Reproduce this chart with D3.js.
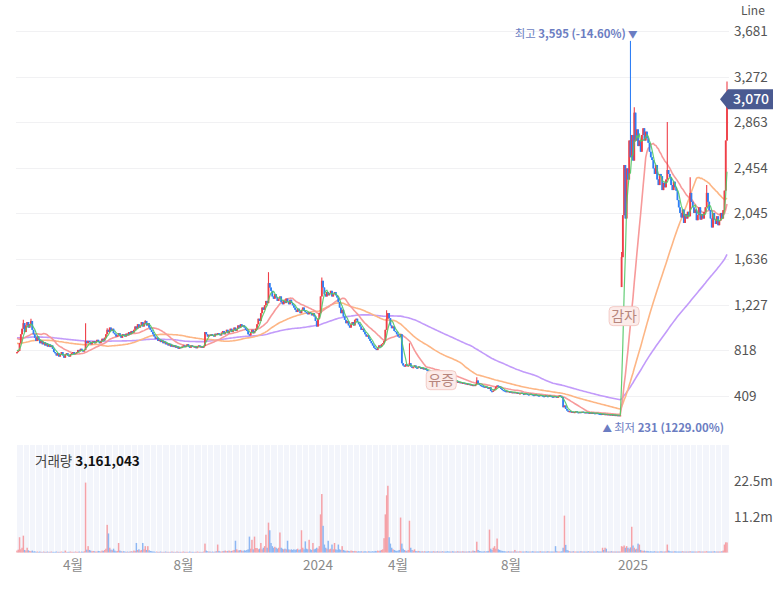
<!DOCTYPE html>
<html><head><meta charset="utf-8">
<script src="https://cdn.jsdelivr.net/npm/d3@7"></script>
<style>
html,body{margin:0;padding:0;background:#fff;overflow:hidden;}
svg{display:block;font-family:"Noto Sans CJK KR","Noto Sans",sans-serif;}
</style></head><body>
<svg id="chart" width="773" height="592"></svg>
<script>
// ---- data (daily closes, KRW) ----
const closes = [
800,810,880,960,
1010,1060,980,1040,1070,1020,1050,1080,
1000,960,
930,900,940,910,880,900,870,890,860,880,850,870,845,860,
830,800,790,770,790,760,780,800,770,750,780,790,770,760,780,790,800,780,790,
800,820,810,830,815,805,820,
900,
880,900,890,870,885,900,880,895,910,890,880,900,920,905,
930,960,1000,980,1020,990,1010,970,
960,940,950,970,945,930,960,955,940,965,950,980,960,990,975,
1000,1030,1010,1050,1020,1040,1070,1030,1060,1080,1040,1060,1020,1000,980,960,
940,920,930,900,910,890,905,880,895,870,880,860,875,850,865,845,860,840,850,830,845,836,
850,860,845,855,870,850,840,860,855,845,850,835,850,860,845,850,840,855,
980,
960,940,955,945,960,950,940,965,955,970,960,950,975,990,960,980,1000,970,990,1010,980,1000,1020,990,
1010,1040,1020,1050,1030,1040,1020,1000,
990,960,950,980,1000,970,990,1010,
1050,1100,1080,1150,1200,1180,1220,1260,1240,
1420,1380,
1350,1300,1280,1320,1290,1260,1280,1300,
1250,1230,1260,1240,1280,1250,1230,1270,1240,1220,
1200,1180,1160,1190,1170,1150,1180,1200,1170,1160,1150,
1140,1160,1150,1130,1150,1120,1080,1030,
1100,1150,
1300,1440,1380,
1320,1300,1340,1310,1330,1350,1300,1320,1340,1310,1290,
1250,1200,1150,1180,1120,1090,1060,1080,1040,1020,
1050,1070,1040,1090,1100,1070,
1050,1030,1000,1010,980,960,940,950,920,900,880,860,840,830,818,
840,860,850,870,880,900,
1000,1100,1150,1105,
1040,1015,1030,990,980,960,940,935,960,
700,680,670,690,675,680,
700,
670,660,665,680,660,655,670,665,650,660,645,655,640,
635,625,630,620,615,625,610,620,605,615,600,610,595,600,590,585,575,570,560,565,
550,540,545,530,535,525,530,520,525,515,520,510,515,505,510,500,505,495,510,545,520,505,500,495,490,485,490,480,470,485,
450,445,455,470,490,500,495,480,470,460,455,450,445,450,440,445,440,
440,435,440,430,435,425,430,435,425,420,430,425,420,415,425,420,415,410,420,415,410,405,415,410,405,400,410,405,400,410,405,400,395,405,400,395,400,410,400,395,
305,
320,290,
275,265,270,260,265,258,262,268,260,255,262,258,265,260,255,260,258,252,256,250,255,252,248,254,250,246,
245,242,246,240,244,238,242,236,240,235,238,233,236,231,234,232,233,
1653,2030,2480,2000,2450,2350,2700,2550,2750,2520,2950,2700,2800,2650,
2700,2600,2750,2810,2700,2780,2720,
2680,2600,2550,
2525,2450,2400,2480,2350,2300,2400,2380,2255,2320,2280,2350,
2435,
2400,2370,2300,2255,2330,2280,2250,
2165,2100,2050,2010,2080,1960,2040,2000,2060,2020,
2230,
2150,2100,2050,2080,1985,2030,2100,1990,2040,2000,2060,
2100,2230,
2150,2075,2000,1920,2050,1990,1950,2020,1940,1980,
2050,2000,
2075,
2250,2700,3070
];
// daily volume, millions of shares
const volumes = [
0.6,0.9,4.8,1.0,1.5,5.3,0.8,0.6,1.5,0.7,
0.5,0.4,0.6,0.3,0.4,0.2,0.3,0.2,0.3,0.2,
0.2,0.3,0.2,0.2,0.3,0.2,0.2,0.3,0.2,0.2,
0.2,0.3,0.2,0.2,0.2,0.3,0.2,0.2,0.6,0.2,
0.2,0.2,0.3,0.2,0.2,0.2,0.3,0.2,0.2,0.3,
0.2,0.3,0.2,0.4,22,0.9,2.0,0.8,0.6,0.4,
0.5,0.4,0.3,0.3,0.5,0.4,0.3,0.6,0.5,0.8,
1.2,8.7,6.0,1.5,0.9,0.7,1.2,0.6,0.4,0.5,
3.0,0.6,0.4,0.3,0.4,0.3,0.2,0.3,0.2,0.3,
0.4,0.3,0.6,0.5,3.0,0.8,1.0,0.6,0.8,3.0,
1.0,2.0,0.8,2.0,0.7,0.5,0.4,0.3,0.3,0.2,
0.3,0.2,0.2,0.3,0.2,0.2,0.2,0.3,0.2,0.2,
0.2,0.2,0.3,0.2,0.2,0.2,0.3,0.2,0.2,0.2,
0.2,0.3,0.2,0.2,0.2,0.2,0.3,0.2,0.2,0.2,
0.2,0.2,0.3,0.2,0.2,0.2,0.2,0.3,2.8,0.6,
0.4,0.3,0.3,0.2,0.3,0.2,0.3,0.4,2.5,0.5,
0.3,0.3,0.4,0.5,0.6,0.4,0.5,0.6,0.4,0.5,
0.6,0.8,3.7,1.0,0.6,0.7,0.8,0.6,0.5,0.7,
0.6,0.8,1.0,5.0,1.2,4.0,1.0,5.0,1.4,1.4,
1.0,1.2,3.0,1.0,1.5,2.0,5.6,1.5,9.4,7.0,
3.0,2.0,1.5,1.8,1.5,1.2,1.5,6.3,1.5,1.2,
1.0,1.2,1.0,3.7,1.0,0.8,1.0,0.8,1.0,0.8,
1.0,1.2,0.8,1.0,7.0,1.5,1.0,3.5,1.2,1.0,
4.0,1.0,0.8,3.0,1.0,1.2,1.5,1.2,2.0,12.0,
18.4,8.4,2.5,1.5,1.2,3.7,1.0,1.2,2.5,1.0,
3.0,1.0,0.8,2.5,1.0,0.8,2.0,0.8,0.6,0.5,
0.6,0.5,0.4,0.6,0.5,0.4,0.5,0.4,0.3,0.4,
0.3,0.4,0.3,0.3,0.4,0.3,0.3,0.4,0.3,0.3,
0.4,0.3,0.5,0.4,0.6,0.5,0.6,0.8,1.0,4.5,
12.0,18.0,21.0,4.8,2.8,1.5,1.0,0.8,0.6,0.5,
0.6,0.8,11.0,2.8,1.2,0.8,0.6,0.5,0.8,10.0,
1.5,0.8,0.6,1.0,0.5,0.4,0.5,0.4,0.3,0.4,
0.3,0.4,0.3,0.3,0.4,0.3,0.3,0.3,0.4,0.3,
0.3,0.4,0.3,0.3,0.3,0.4,0.3,0.3,0.3,0.4,
0.3,0.3,0.3,0.4,0.3,0.3,0.3,0.4,0.3,0.3,
0.3,0.4,0.3,0.3,0.3,0.3,0.4,0.3,0.3,0.6,
0.5,0.4,3.4,0.8,0.5,0.4,0.3,0.3,0.4,0.3,
0.4,0.5,7.2,1.2,0.8,1.5,2.0,1.2,4.4,1.0,
0.8,0.6,0.5,0.4,0.4,0.3,0.3,0.4,0.3,0.3,
0.3,0.3,0.8,0.3,0.3,0.3,0.4,0.3,0.3,0.3,
0.3,0.4,0.3,0.3,0.3,0.3,0.4,0.3,0.3,0.3,
0.3,0.3,0.4,0.3,0.3,0.3,0.3,0.3,0.4,0.3,
0.3,0.3,0.3,0.3,2.0,0.4,0.3,0.3,0.3,0.4,
1.5,11.6,2.4,0.8,0.6,0.4,0.3,0.3,0.4,0.3,
0.3,0.3,0.3,0.3,0.4,0.3,0.3,0.3,0.3,0.3,
0.4,0.3,0.3,0.3,0.3,0.3,0.3,0.4,0.3,0.3,
0.3,1.5,0.8,1.5,1.2,0.3,0.3,0.3,0.4,0.3,
0.3,0.3,0.3,0.3,0.3,0.3,2.0,1.8,2.2,1.5,
2.0,1.5,1.2,1.6,8.1,2.2,1.5,1.0,1.2,2.8,
2.5,0.8,0.6,0.5,0.6,0.4,0.5,0.4,0.3,0.4,
0.3,0.3,0.4,0.3,0.3,0.3,0.3,0.4,0.3,0.3,
0.3,0.4,2.5,0.6,0.4,0.3,0.3,0.3,0.4,0.3,
0.3,0.3,0.3,0.3,0.4,0.3,0.3,0.3,0.3,0.3,
0.4,0.3,0.3,0.3,0.3,0.3,0.3,0.4,0.3,0.3,
0.3,0.3,0.3,0.4,0.3,0.3,0.3,0.3,0.3,0.4,
0.3,0.3,0.3,0.3,0.3,0.4,0.6,2.5,3.2,3.161043
];
// sparse intraday highs / opens: [dayIndex, value]
const highOverrides = [[5,1090],[11,1100],[54,1060],[71,1015],[101,1087],[198,1518],[240,1470],[291,1177],[309,880],[362,575],[476,1700],[483,3595],[486,3000],[512,2866],[530,2370],[543,2300],[559,3230]];
const openOverrides = [[0,790],[476,1384]];

const priceTicks = [409,818,1227,1636,2045,2454,2863,3272,3681];
const volumeTicks = [11.2,22.5];
const volumeTickLabels = ["11.2m","22.5m"];
const xTickIndex = [44,131,237,300,389,485];
const xTickLabels = ["4월","8월","2024","4월","8월","2025"];
const maPeriods = [5,20,60,120];
const maSeeds = [820,930,880,930];
const maColors = ["#52c867","#f79a9a","#fdb685","#c29bfa"];
const lastPrice = 3070;
const lastVolume = 3161043;
const highInfo = {index:483, value:3595, pct:"-14.60%"};
const lowInfo = {index:472, value:231, pct:"1229.00%"};
const events = [{label:"유증", index:334, price:548},{label:"감자", index:478, price:1123}];

// ---- build ----
const svg = d3.select("#chart");
const N = closes.length;
const opens = closes.map((c,i)=> i===0 ? c : closes[i-1]);
openOverrides.forEach(([i,v])=>{ if(i<N) opens[i]=v; });
const highs = closes.map((c,i)=>Math.max(c,opens[i]));
highOverrides.forEach(([i,v])=>{ if(i<N) highs[i]=v; });
const lows = closes.map((c,i)=>Math.min(c,opens[i]));

const x = d3.scaleLinear().domain([0,N-1]).range([17,727]);
const y = d3.scaleLinear().domain([0,3681]).range([441.2,31.3]);
const yv = d3.scaleLinear().domain([0,22.5]).range([552.5,481]);
const step = x(1)-x(0);

const upC = "#ef3f48", dnC = "#2f7ff5";
const upV = "#f5a2a8", dnV = "#8db7f3";

// price grid
svg.append("g").selectAll("line").data(priceTicks).join("line")
  .attr("x1",16).attr("x2",729).attr("y1",d=>Math.round(y(d))+0.5).attr("y2",d=>Math.round(y(d))+0.5)
  .attr("stroke","#f1f1f3").attr("stroke-width",1);

// price axis labels
svg.append("g").selectAll("text").data(priceTicks).join("text")
  .attr("x",734).attr("y",d=>y(d)+5).attr("font-size",13.5).attr("fill","#555")
  .text(d=>d3.format(",")(d));

// volume panel background + weekly stripes
svg.append("rect").attr("x",16).attr("y",445).attr("width",713).attr("height",108).attr("fill","#f3f5fb");
svg.append("g").selectAll("line").data(d3.range(0,N,5)).join("line")
  .attr("x1",i=>Math.round(x(i)-step/2)+0.5).attr("x2",i=>Math.round(x(i)-step/2)+0.5)
  .attr("y1",445).attr("y2",553).attr("stroke","#ffffff").attr("stroke-width",1);

// volume bars
const idx = d3.range(N);
svg.append("g").selectAll("rect").data(idx).join("rect")
  .attr("x",i=>x(i)-0.75).attr("width",1.5)
  .attr("y",i=>yv(volumes[i])).attr("height",i=>Math.max(0.5,yv(0)-yv(volumes[i])))
  .attr("fill",i=>closes[i]>=opens[i]?upV:dnV);

// volume axis labels
svg.append("g").selectAll("text").data(volumeTicks).join("text")
  .attr("x",734).attr("y",d=>yv(d)+5).attr("font-size",13.5).attr("fill","#555")
  .text((d,i)=>volumeTickLabels[i]);

// volume title
const vt = svg.append("text").attr("x",35).attr("y",466).attr("font-size",13.5);
vt.append("tspan").attr("fill","#444").text("거래량 ");
vt.append("tspan").attr("fill","#111").attr("font-weight","bold").text(d3.format(",")(lastVolume));

// moving averages (drawn first, candles on top)
function movingAverage(period, seed){
  return closes.map((c,i)=>{
    let s=0,n=0;
    for(let k=Math.max(0,i-period+1);k<=i;k++){ s+=closes[k]; n++; }
    return (s+(period-n)*seed)/period;
  });
}
const line = d3.line().x((d,i)=>x(i)).y(d=>y(d));
[3,2,1].forEach(k=>{
  svg.append("path").datum(movingAverage(maPeriods[k],maSeeds[k]))
    .attr("d",line).attr("fill","none").attr("stroke",maColors[k])
    .attr("stroke-width",1.6).attr("stroke-linejoin","round");
});

// candles
const cg = svg.append("g");
cg.selectAll("line").data(idx).join("line")
  .attr("x1",i=>x(i)).attr("x2",i=>x(i))
  .attr("y1",i=>y(highs[i])).attr("y2",i=>y(lows[i]))
  .attr("stroke",i=>closes[i]>=opens[i]?upC:dnC).attr("stroke-width",1.1);
cg.selectAll("rect").data(idx).join("rect")
  .attr("x",i=>x(i)-0.9).attr("width",1.8)
  .attr("y",i=>y(Math.max(opens[i],closes[i])))
  .attr("height",i=>Math.max(1.2,Math.abs(y(opens[i])-y(closes[i]))))
  .attr("fill",i=>closes[i]>=opens[i]?upC:dnC);

// short MA on top of candles
svg.append("path").datum(movingAverage(maPeriods[0],maSeeds[0]))
  .attr("d",line).attr("fill","none").attr("stroke",maColors[0])
  .attr("stroke-width",1.2).attr("stroke-opacity",0.9).attr("stroke-linejoin","round");

// event labels
const eg = svg.append("g").selectAll("g").data(events).join("g")
  .attr("transform",d=>`translate(${x(d.index)},${y(d.price)})`);
eg.append("rect").attr("x",-15).attr("y",-9.5).attr("width",30).attr("height",19).attr("rx",4)
  .attr("fill","#fcecea").attr("stroke","#f3cbc6").attr("stroke-width",1);
eg.append("text").attr("text-anchor","middle").attr("y",5).attr("font-size",14).attr("fill","#b7867d").text(d=>d.label);

// high / low labels
const hx = x(highInfo.index), hy = y(highInfo.value);
const ht = svg.append("text").attr("x",hx+7).attr("y",hy-3).attr("text-anchor","end").attr("font-size",11.4).attr("fill","#6b7dc2");
ht.append("tspan").text("최고 ");
ht.append("tspan").attr("font-weight","bold").text(d3.format(",")(highInfo.value)+" ("+highInfo.pct+")");
ht.append("tspan").attr("font-size",9.5).text(" ▼");

const lx = x(lowInfo.index), ly = y(lowInfo.value);
const lt = svg.append("text").attr("x",lx-14).attr("y",ly+17).attr("font-size",11.4).attr("fill","#6b7dc2");
lt.append("tspan").attr("font-size",9.5).text("▲ ");
lt.append("tspan").text("최저 ");
lt.append("tspan").attr("font-weight","bold").text(lowInfo.value+" ("+lowInfo.pct+")");

// current price tag
const py = y(lastPrice);
svg.append("path").attr("d",`M720,${py} L728,${py-10} L773,${py-10} L773,${py+10} L728,${py+10} Z`).attr("fill","#4a5a91");
svg.append("text").attr("x",733).attr("y",py+5).attr("font-size",14).attr("fill","#fff").attr("font-weight",500).text(d3.format(",")(lastPrice));

// x axis labels
svg.append("g").selectAll("text").data(xTickIndex).join("text")
  .attr("x",i=>x(i)).attr("y",570).attr("text-anchor","middle").attr("font-size",13.5).attr("fill","#8a8a8a")
  .text((d,i)=>xTickLabels[i]);

// top-right control label
svg.append("text").attr("x",741).attr("y",15).attr("font-size",12).attr("fill","#555").text("Line");
</script>
</body></html>
